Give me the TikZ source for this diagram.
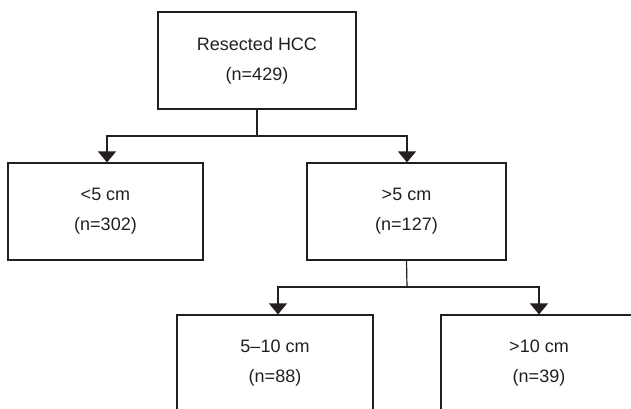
\documentclass[tikz,border=0pt]{standalone}
\usepackage{fontspec}
\setmainfont{Liberation Sans}
\usetikzlibrary{arrows.meta}
\definecolor{ink}{HTML}{231F20}
\begin{document}
\begin{tikzpicture}[x=1pt,y=-1pt,
  box/.style={draw=ink, line width=1.2pt, minimum width=#1, minimum height=97pt,
    inner sep=0pt, align=center, text=ink, font=\fontsize{18}{30}\selectfont},
  box/.default=197pt,
  conn/.style={draw=ink, line width=1.2pt},
  arr/.style={conn, -{Triangle[width=18pt,length=11pt]}, shorten >=0pt}]
\clip (0,0) rectangle (631,409);
\node[box=198pt] (top) at (257,60.5) {Resected HCC\\(n=429)};
\node[box=195pt] (lt) at (105.5,211.5) {<5 cm\\(n=302)};
\node[box=199pt] (mid) at (406.5,211.5) {>5 cm\\(n=127)};
\node[box=196pt] (bl) at (275,363.5) {5–10 cm\\(n=88)};
\node[box=196pt] (br) at (539,363.5) {>10 cm\\(n=39)};
\coordinate (j1) at (257,136);
\coordinate (j2) at (407,287);
\draw[conn] (top.south) -- (j1);
\draw[conn] (mid.south) -- (j2);
\draw[arr] (j1) -| ([xshift=1.5pt]lt.north);
\draw[arr] (j1) -| ([xshift=0.5pt]mid.north);
\draw[arr] (j2) -| ([xshift=3pt]bl.north);
\draw[arr] (j2) -| (br.north);
\end{tikzpicture}
\end{document}
